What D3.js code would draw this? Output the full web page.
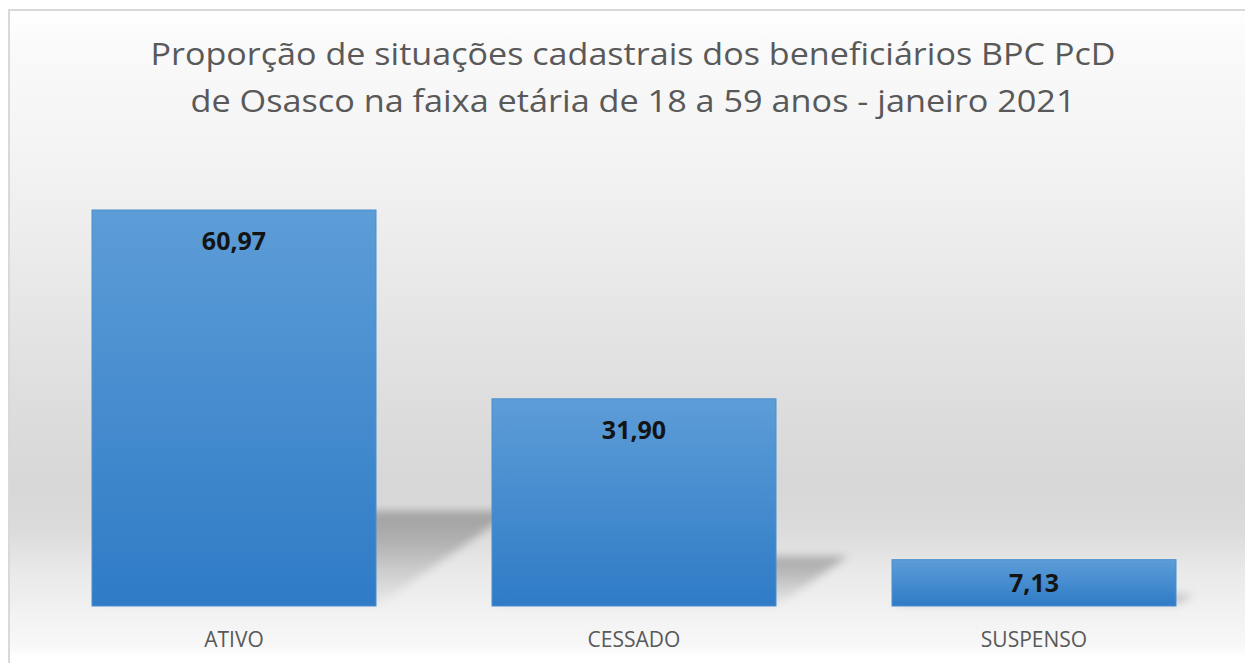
<!DOCTYPE html>
<html>
<head>
<meta charset="utf-8">
<script src="https://cdn.jsdelivr.net/npm/d3@7"></script>
<style>
    body { margin: 0; background: #ffffff; }
    svg { display: block; }
</style>
</head>
<body>
<div id="chart"></div>
<script>
const titleLines = [
    "Proporção de situações cadastrais dos beneficiários BPC PcD",
    "de Osasco na faixa etária de 18 a 59 anos - janeiro 2021"
];
const categories = ["ATIVO", "CESSADO", "SUSPENSO"];
const values = [60.97, 31.90, 7.13];

class BarChart {
    constructor(element, categories, values) {
        this.element = element;
        this.categories = categories;
        this.values = values;
        this.initVis();
    }

    initVis() {
        const vis = this;

        vis.width = 1245;
        vis.height = 663;
        vis.baseline = 606;

        vis.svg = d3.select("#" + vis.element).append("svg")
            .attr("width", vis.width)
            .attr("height", vis.height);

        const defs = vis.svg.append("defs");

        // chart area background (light at top, grey in the middle, white at the bottom)
        const bg = defs.append("linearGradient")
            .attr("id", "bgGrad")
            .attr("x1", 0).attr("y1", 0).attr("x2", 0).attr("y2", 1);
        [[0, "#ffffff"], [0.05, "#fafafa"], [0.18, "#f5f5f5"], [0.3, "#efefef"],
         [0.45, "#e6e6e6"], [0.6, "#dddddd"], [0.72, "#d7d7d7"], [0.79, "#dcdcdc"],
         [0.84, "#e8e8e8"], [0.91, "#f2f2f2"], [0.96, "#f8f8f8"], [0.975, "#ffffff"], [1, "#ffffff"]]
            .forEach(s => bg.append("stop").attr("offset", s[0]).attr("stop-color", s[1]));

        const barGrad = defs.append("linearGradient")
            .attr("id", "barGrad")
            .attr("x1", 0).attr("y1", 0).attr("x2", 0).attr("y2", 1);
        barGrad.append("stop").attr("offset", 0).attr("stop-color", "#5d9dd7");
        barGrad.append("stop").attr("offset", 1).attr("stop-color", "#2f7bc6");

        const shGrad = defs.append("linearGradient")
            .attr("id", "shadowGrad")
            .attr("x1", 0).attr("y1", 0).attr("x2", 0).attr("y2", 1);
        shGrad.append("stop").attr("offset", 0).attr("stop-color", "#000").attr("stop-opacity", 0.26);
        shGrad.append("stop").attr("offset", 0.35).attr("stop-color", "#000").attr("stop-opacity", 0.2);
        shGrad.append("stop").attr("offset", 1).attr("stop-color", "#000").attr("stop-opacity", 0.02);

        defs.append("filter")
            .attr("id", "blur")
            .attr("x", "-20%").attr("y", "-20%").attr("width", "140%").attr("height", "140%")
            .append("feGaussianBlur")
            .attr("stdDeviation", 4);

        // background + border
        vis.svg.append("rect")
            .attr("x", 9).attr("y", 10)
            .attr("width", vis.width).attr("height", vis.height)
            .attr("fill", "url(#bgGrad)")
            .attr("stroke", "#d9d9d9")
            .attr("stroke-width", 2);

        // Title
        const titleWidths = [965, 885];
        vis.svg.selectAll(".title")
            .data(titleLines)
            .enter().append("text")
            .attr("class", "title")
            .attr("x", 633)
            .attr("y", (d, i) => 65 + i * 47)
            .attr("text-anchor", "middle")
            .attr("textLength", (d, i) => titleWidths[i])
            .attr("lengthAdjust", "spacingAndGlyphs")
            .style("font-family", "'Open Sans', sans-serif")
            .style("font-size", "31px")
            .style("fill", "#595959")
            .text(d => d);

        vis.x = d3.scaleBand()
            .domain(vis.categories)
            .range([34, 1234])
            .paddingInner(0.29)
            .paddingOuter(0.145);

        vis.y = d3.scaleLinear()
            .domain([0, 70])
            .range([vis.baseline, vis.baseline - 70 * 6.495]);

        vis.data = vis.categories.map((c, i) => ({ cat: c, value: vis.values[i] }));

        // perspective shadows behind the bars
        vis.svg.append("g")
            .attr("filter", "url(#blur)")
            .selectAll(".shadow")
            .data(vis.data)
            .enter().append("polygon")
            .attr("class", "shadow")
            .attr("points", d => {
                const x0 = vis.x(d.cat);
                const x1 = x0 + vis.x.bandwidth();
                const sh = 0.24 * (vis.baseline - vis.y(d.value));
                const s = 1.45 * sh;
                const b = vis.baseline;
                return [[x0, b], [x1, b], [x1 + s, b - sh], [x0 + s, b - sh]].join(" ");
            })
            .attr("fill", "url(#shadowGrad)");

        // Bars
        vis.svg.selectAll(".bar")
            .data(vis.data)
            .enter().append("rect")
            .attr("class", "bar")
            .attr("x", d => vis.x(d.cat))
            .attr("y", d => vis.y(d.value))
            .attr("width", vis.x.bandwidth())
            .attr("height", d => vis.baseline - vis.y(d.value))
            .attr("fill", "url(#barGrad)")
            .attr("stroke", "#4a8fd0")
            .attr("stroke-width", 1);

        // value labels, comma as decimal sign
        const fmt = d3.formatLocale({ decimal: ",", thousands: ".", grouping: [3], currency: ["R$", ""] }).format(".2f");
        vis.svg.selectAll(".label")
            .data(vis.data)
            .enter().append("text")
            .attr("class", "label")
            .attr("x", d => vis.x(d.cat) + vis.x.bandwidth() / 2)
            .attr("y", d => Math.min(vis.y(d.value) + 31, (vis.y(d.value) + vis.baseline) / 2))
            .attr("dy", "0.35em")
            .attr("text-anchor", "middle")
            .style("font-family", "'Open Sans', sans-serif")
            .style("font-weight", "bold")
            .style("font-size", "25px")
            .style("fill", "#141414")
            .text(d => fmt(d.value));

        // category axis (labels only)
        const xAxis = vis.svg.append("g")
            .attr("transform", `translate(0, ${vis.baseline})`)
            .call(d3.axisBottom(vis.x).tickSize(0).tickPadding(0));
        xAxis.select(".domain").remove();
        xAxis.selectAll("text")
            .attr("y", 41)
            .attr("dy", 0)
            .style("font-family", "'Open Sans', sans-serif")
            .style("font-size", "21px")
            .style("fill", "#595959");
    }
}

new BarChart("chart", categories, values);
</script>
</body>
</html>
